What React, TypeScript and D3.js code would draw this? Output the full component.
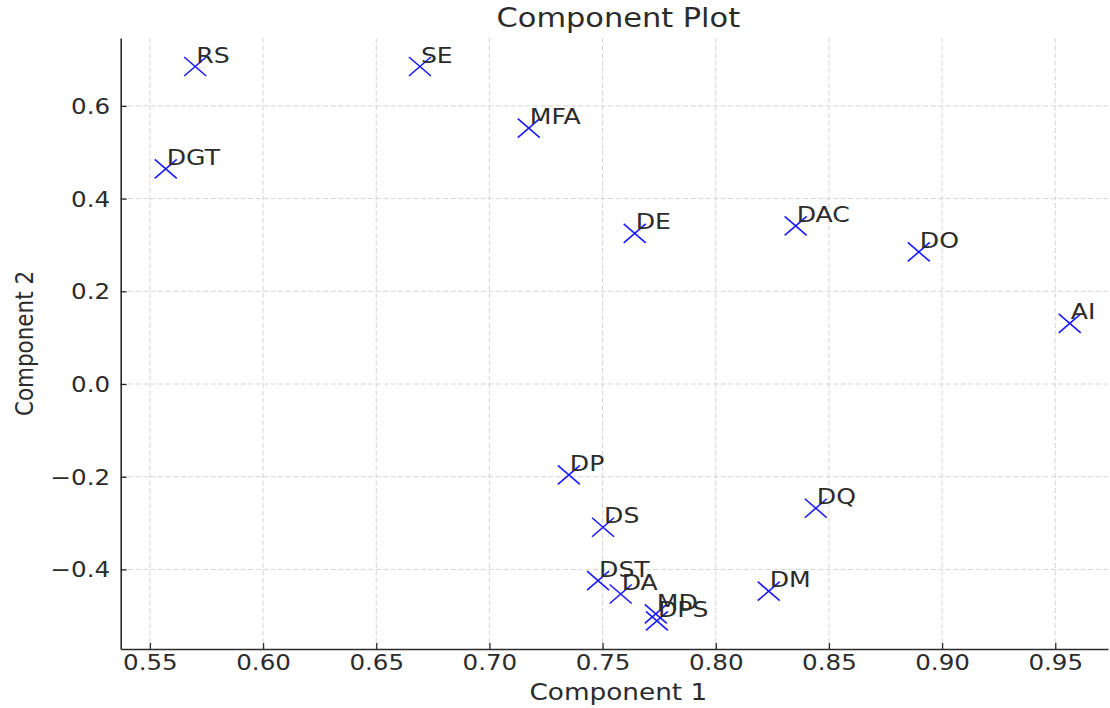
import React, { useRef, useEffect } from "react";
import { select, scaleLinear, axisBottom, axisLeft, format } from "d3";

const labels = ["RS", "SE", "MFA", "DGT", "DE", "DAC", "DO", "AI", "DP", "DQ", "DS", "DST", "DA", "DM", "MD", "DPS"];
const comp1 = [0.570, 0.6693, 0.7174, 0.557, 0.7642, 0.8353, 0.8897, 0.9564, 0.7351, 0.8442, 0.7502, 0.748, 0.758, 0.8234, 0.7735, 0.774];
const comp2 = [0.685, 0.685, 0.552, 0.464, 0.325, 0.341, 0.285, 0.131, -0.196, -0.268, -0.309, -0.424, -0.453, -0.447, -0.496, -0.511];
const xTicks = [0.55, 0.6, 0.65, 0.7, 0.75, 0.8, 0.85, 0.9, 0.95];
const yTicks = [-0.4, -0.2, 0.0, 0.2, 0.4, 0.6];

const W = 1110;
const H = 708;
const margin = { left: 120.7, right: 2, top: 38, bottom: 59 };
const font = "DejaVu Sans";
const textColor = "#2b2b2b";
// the reference is stretched a bit sideways, so text is widened to match
const sx = 1.17;

function App() {
  const svgRef = useRef<SVGSVGElement>(null);

  useEffect(() => {
    const svg = select(svgRef.current);
    svg.selectAll("*").remove();

    const x = scaleLinear().domain([0.5371, 0.9733]).range([margin.left, W - margin.right]);
    const y = scaleLinear().domain([-0.5717, 0.7465]).range([H - margin.bottom, margin.top]);

    // grid
    const grid = svg.append("g");
    grid.selectAll(".vgrid")
      .data(xTicks)
      .join("line")
      .attr("x1", (d) => x(d))
      .attr("x2", (d) => x(d))
      .attr("y1", margin.top)
      .attr("y2", H - margin.bottom)
      .attr("stroke", "#cfcfcf")
      .attr("stroke-width", 0.9)
      .attr("stroke-dasharray", "5,2.5");
    grid.selectAll(".hgrid")
      .data(yTicks)
      .join("line")
      .attr("x1", margin.left)
      .attr("x2", W - margin.right)
      .attr("y1", (d) => y(d))
      .attr("y2", (d) => y(d))
      .attr("stroke", "#cfcfcf")
      .attr("stroke-width", 0.9)
      .attr("stroke-dasharray", "5,2.5");

    // axes
    const xAxis = svg.append("g")
      .attr("transform", `translate(0,${H - margin.bottom})`)
      .call(axisBottom(x).tickValues(xTicks).tickFormat(format(".2f")).tickSize(-6).tickPadding(6).tickSizeOuter(0));
    const yAxis = svg.append("g")
      .attr("transform", `translate(${margin.left},0)`)
      .call(axisLeft(y).tickValues(yTicks).tickFormat(format(".1f")).tickSize(-6).tickPadding(9).tickSizeOuter(0));

    [xAxis, yAxis].forEach((ax) => {
      ax.select(".domain").attr("stroke", textColor).attr("stroke-width", 1.6);
      ax.selectAll(".tick line").attr("stroke", textColor).attr("stroke-width", 1.3);
      ax.selectAll(".tick text")
        .attr("fill", textColor)
        .attr("font-family", font)
        .attr("font-size", 21)
        .attr("transform", `scale(${sx},1)`);
    });
    xAxis.selectAll(".tick text").attr("dy", "0.72em");
    yAxis.selectAll(".tick text").attr("dy", "0.36em");

    // markers
    const pts = labels.map((name, i) => ({ name, c1: comp1[i], c2: comp2[i] }));
    const hx = 11;
    const hy = 9.5;
    svg.append("g")
      .selectAll("path")
      .data(pts)
      .join("path")
      .attr("d", (d) => {
        const px = x(d.c1);
        const py = y(d.c2);
        return `M${px - hx},${py - hy}L${px + hx},${py + hy}M${px - hx},${py + hy}L${px + hx},${py - hy}`;
      })
      .attr("stroke", "#1a1aff")
      .attr("stroke-width", 1.6)
      .attr("fill", "none");

    svg.append("g")
      .selectAll("text")
      .data(pts)
      .join("text")
      .attr("transform", (d) => `translate(${x(d.c1) + 1},${y(d.c2) - 4}) scale(${sx},1)`)
      .attr("font-family", font)
      .attr("font-size", 21.5)
      .attr("fill", textColor)
      .text((d) => d.name);

    // titles
    svg.append("text")
      .attr("transform", `translate(${(margin.left + W - margin.right) / 2 + 4},27) scale(${sx},1)`)
      .attr("text-anchor", "middle")
      .attr("font-family", font)
      .attr("font-size", 26)
      .attr("fill", textColor)
      .text("Component Plot");
    svg.append("text")
      .attr("transform", `translate(${(margin.left + W - margin.right) / 2 + 4},700) scale(${sx},1)`)
      .attr("text-anchor", "middle")
      .attr("font-family", font)
      .attr("font-size", 22.5)
      .attr("fill", textColor)
      .text("Component 1");
    svg.append("text")
      .attr("transform", `translate(33,${(margin.top + H - margin.bottom) / 2}) scale(${sx},1) rotate(-90)`)
      .attr("text-anchor", "middle")
      .attr("font-family", font)
      .attr("font-size", 21.5)
      .attr("fill", textColor)
      .text("Component 2");
  }, []);

  return (
    <div style={{ position: "absolute", left: 0, top: 0 }}>
      <svg ref={svgRef} width={W} height={H} style={{ display: "block", background: "#fff" }}></svg>
    </div>
  );
}

export default App;
